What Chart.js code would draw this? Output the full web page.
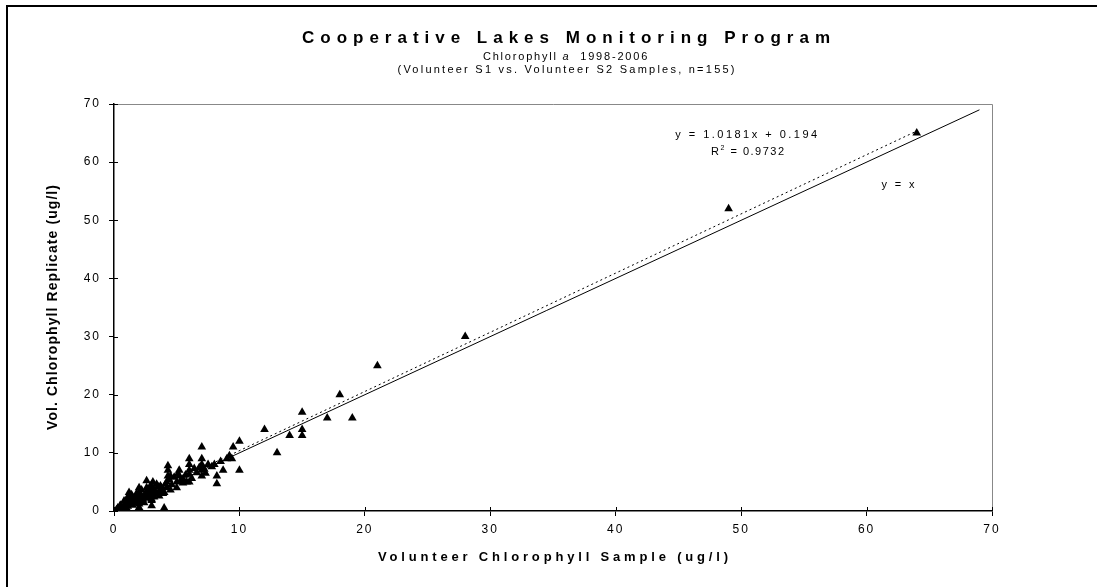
<html>
  <head>
    <script src="https://cdn.jsdelivr.net/npm/chart.js@4/dist/chart.umd.min.js"></script>
  </head>
  <body>
    <canvas id="graph" width="1097" height="587"></canvas>
    <style>
      body{
        margin: 0;
        background-color: #fff;
      }
    </style>
    <script>
      // volunteer sample (x) vs replicate (y)
      var sampleX = [64, 49, 28, 21, 19, 18, 17, 15, 15, 15, 14, 13, 12, 10, 10, 9.5, 9.2, 9, 8.7, 8, 8.2, 8.2, 7.5,
        7, 7, 7, 7, 7, 6, 6, 6, 6, 6, 5.5, 5.5, 5.2, 5.2, 5, 5, 4.5, 4.3, 4.3, 4.3, 4.2, 4.2, 4, 4, 3.7, 3.7, 3.5,
        3.1, 3.1, 3, 3, 3, 2.8, 2.6, 2.6, 2.5, 2.5, 2.3, 2, 2, 2, 2, 2, 2, 1.8, 1.5, 1.5, 1.2, 1.2, 1.2, 1, 1, 0.8,
        0.7, 0.5, 0.5, 0.3, 0.3, 0.2, 0.5, 0.6, 0.8, 0.9, 1, 1.1, 1.3, 1.4, 1.6, 1.7, 1.8, 1.9, 2.1, 2.2, 2.4, 2.7,
        2.8, 2.9, 3.2, 3.3, 3.4, 3.6, 3.8, 3.9, 4.1, 4.4, 4.6, 4.8, 5.1, 5.3, 5.7, 5.8, 6.2, 6.4, 6.6, 6.8, 7.2, 7.3,
        7.8, 8.5, 9.4, 3, 2, 1.5, 1, 0.4, 2.6, 3.5, 4.5, 1.2, 2.2, 3.1];
      var sampleY = [65, 52, 30, 25, 16, 20, 16, 17, 14, 13, 13, 10, 14, 12, 7, 11, 9.5, 9, 7, 8, 6, 4.7, 8,
        11, 9, 8, 7, 6, 9, 8, 7, 6.3, 5, 5.5, 4.8, 7, 6, 5, 4, 6, 7.8, 7, 6, 5, 4, 3.2, 0.5, 4.3, 3.5, 3,
        5, 4, 3, 1.8, 0.9, 3.5, 5.2, 4, 3, 2.5, 2, 4, 3.2, 2.5, 2, 1.2, 0.6, 3, 2.3, 1.5, 3.2, 2.5, 2, 1.5, 1, 1.7,
        0.6, 1, 0.5, 0.5, 0.2, 0.2, 0.8, 0.3, 0.9, 1.2, 2, 0.8, 1.1, 2.8, 1.8, 2.2, 1.4, 2.7, 1.6, 3.6, 1.4, 2.2,
        2.8, 4.3, 2.4, 3.3, 4.6, 2.6, 4, 3, 4.6, 5.4, 4.5, 5.8, 6.4, 5.2, 6.2, 5, 5.6, 7.3, 6.6, 7.5, 7.2, 6.5,
        7.6, 8.5, 9, 2, 1.8, 1, 0.5, 0.4, 3.2, 4.2, 3.6, 1.5, 2.6, 3.6];

      // linear trendline y = 1.0181x + 0.194 over the sampled range, and the 1:1 line
      var trendX = [0.2, 64];
      var trendY = [0.4, 65.35];
      var identityX = [0, 69];
      var identityY = [0, 69];

      var axisMin = 0;
      var axisMax = 70;
      var axisStep = 10;

      var titleText = 'Cooperative Lakes Monitoring Program';
      var subtitleParts = ['Chlorophyll ', 'a', '  1998-2006'];
      var subtitle2Text = '(Volunteer S1 vs. Volunteer S2 Samples, n=155)';
      var xTitleText = 'Volunteer Chlorophyll Sample (ug/l)';
      var yTitleText = 'Vol. Chlorophyll Replicate (ug/l)';
      var trendLabel = 'y = 1.0181x + 0.194';
      var rSquaredValue = ' = 0.9732';
      var identityLabel = 'y = x';

      function toPoints(xs, ys) {
        var pts = [];
        for (var i = 0; i < xs.length; i++) pts.push({x: xs[i], y: ys[i]});
        return pts;
      }

      var FONT = '"Liberation Sans", Arial, sans-serif';

      // draws text stretched to a given width with letter spacing
      function fitText(ctx, text, font, width, x, y, align) {
        ctx.font = font;
        ctx.letterSpacing = '0px';
        var natural = ctx.measureText(text).width;
        var sp = (width - natural) / Math.max(text.length - 1, 1);
        ctx.letterSpacing = sp + 'px';
        ctx.textAlign = 'left';
        var w = natural + sp * (text.length - 1);
        var sx = align === 'center' ? x - w / 2 : (align === 'right' ? x - w : x);
        ctx.fillText(text, sx, y);
        return sp;
      }

      var textPlugin = {
        id: 'textPlugin',
        beforeDraw: function(chart) {
          var ctx = chart.ctx;
          ctx.save();
          ctx.fillStyle = '#fff';
          ctx.fillRect(0, 0, chart.width, chart.height);
          ctx.restore();
          ctx.letterSpacing = '2px';
        },
        afterDatasetsDraw: function(chart) {
          var ctx = chart.ctx;
          var a = chart.chartArea;
          var xs = chart.scales.x, ys = chart.scales.y;
          ctx.save();
          // plot area border (top / right in grey)
          ctx.strokeStyle = '#888';
          ctx.lineWidth = 1;
          ctx.beginPath();
          ctx.moveTo(a.left, a.top + 0.5);
          ctx.lineTo(a.right + 0.5, a.top + 0.5);
          ctx.lineTo(a.right + 0.5, a.bottom);
          ctx.stroke();
          // inner half of the cross tick marks
          ctx.strokeStyle = '#000';
          ctx.beginPath();
          for (var v = axisMin; v <= axisMax; v += axisStep) {
            var px = Math.round(xs.getPixelForValue(v)) + 0.5;
            ctx.moveTo(px, a.bottom);
            ctx.lineTo(px, a.bottom - 4);
            var py = Math.round(ys.getPixelForValue(v)) + 0.5;
            ctx.moveTo(a.left, py);
            ctx.lineTo(a.left + 4, py);
          }
          ctx.stroke();
          ctx.restore();
        },
        afterDraw: function(chart) {
          var ctx = chart.ctx;
          var a = chart.chartArea;
          var xs = chart.scales.x, ys = chart.scales.y;
          ctx.save();
          ctx.fillStyle = '#000';
          ctx.textBaseline = 'middle';

          // outer frame, its right and bottom edges run past the picture
          ctx.strokeStyle = '#000';
          ctx.lineWidth = 2;
          ctx.strokeRect(7, 6, 1100, 600);

          var cx = 566;
          fitText(ctx, titleText, 'bold 17px ' + FONT, 528, cx, 38, 'center');

          // subtitle with italic "a"
          ctx.letterSpacing = '1.8px';
          var f1 = '11px ' + FONT, f2 = 'italic 11px ' + FONT;
          ctx.font = f1;
          var w0 = ctx.measureText(subtitleParts[0]).width;
          var w2 = ctx.measureText(subtitleParts[2]).width;
          ctx.font = f2;
          var w1 = ctx.measureText(subtitleParts[1]).width;
          var sx = cx - (w0 + w1 + w2) / 2;
          ctx.textAlign = 'left';
          ctx.font = f1;
          ctx.fillText(subtitleParts[0], sx, 57);
          ctx.font = f2;
          ctx.fillText(subtitleParts[1], sx + w0, 57);
          ctx.font = f1;
          ctx.fillText(subtitleParts[2], sx + w0 + w1, 57);

          fitText(ctx, subtitle2Text, '11px ' + FONT, 337, cx, 70, 'center');

          // axis titles
          fitText(ctx, xTitleText, 'bold 13px ' + FONT, 350, (a.left + a.right) / 2, 557, 'center');
          ctx.save();
          ctx.translate(53, (a.top + a.bottom) / 2);
          ctx.rotate(-Math.PI / 2);
          fitText(ctx, yTitleText, 'bold 14px ' + FONT, 245, 0, 0, 'center');
          ctx.restore();

          // trendline equation, R squared, 1:1 label
          fitText(ctx, trendLabel, '11px ' + FONT, 142, xs.getPixelForValue(50.4), ys.getPixelForValue(64.7), 'center');
          var rx = xs.getPixelForValue(47.6), ry = ys.getPixelForValue(61.7);
          ctx.letterSpacing = '1.5px';
          ctx.font = '11px ' + FONT;
          ctx.textAlign = 'left';
          ctx.fillText('R', rx, ry);
          var rw = ctx.measureText('R').width;
          ctx.font = '7px ' + FONT;
          ctx.fillText('2', rx + rw, ry - 4);
          var sw = ctx.measureText('2').width;
          ctx.font = '11px ' + FONT;
          ctx.fillText(rSquaredValue, rx + rw + sw, ry);
          fitText(ctx, identityLabel, '11px ' + FONT, 33, xs.getPixelForValue(62.5), ys.getPixelForValue(56), 'center');
          ctx.restore();
        }
      };

      var tickFont = {family: FONT, size: 12};
      var chartConfig = {
        type: 'scatter',
        data: {
          datasets: [
            {
              label: 'samples',
              data: toPoints(sampleX, sampleY),
              pointStyle: 'triangle',
              pointRadius: 5,
              backgroundColor: '#000',
              borderColor: '#000',
              borderWidth: 0,
              order: 0
            },
            {
              label: 'trend',
              data: toPoints(trendX, trendY),
              showLine: true,
              borderColor: '#000',
              borderWidth: 1,
              borderDash: [2, 3],
              pointRadius: 0,
              order: 1
            },
            {
              label: 'y = x',
              data: toPoints(identityX, identityY),
              showLine: true,
              borderColor: '#000',
              borderWidth: 1,
              pointRadius: 0,
              order: 2
            }
          ]
        },
        options: {
          responsive: false,
          animation: false,
          devicePixelRatio: 1,
          layout: {
            padding: {left: 54, right: 105, top: 104, bottom: 36}
          },
          plugins: {
            legend: {display: false},
            tooltip: {enabled: false}
          },
          scales: {
            x: {
              type: 'linear',
              min: axisMin,
              max: axisMax,
              ticks: {stepSize: axisStep, font: tickFont, color: '#000', padding: 6, maxRotation: 0},
              grid: {drawOnChartArea: false, drawTicks: true, tickLength: 5, color: '#000'},
              border: {color: '#000', width: 1.5},
              afterFit: function(scale) { scale.height = 40; }
            },
            y: {
              type: 'linear',
              min: axisMin,
              max: axisMax,
              ticks: {stepSize: axisStep, font: tickFont, color: '#000', padding: 8},
              grid: {drawOnChartArea: false, drawTicks: true, tickLength: 5, color: '#000'},
              border: {color: '#000', width: 1.5},
              afterFit: function(scale) { scale.width = 60; }
            }
          }
        },
        plugins: [textPlugin]
      };

      var graph = new Chart(document.getElementById("graph"), chartConfig);
    </script>
  </body>
</html>
